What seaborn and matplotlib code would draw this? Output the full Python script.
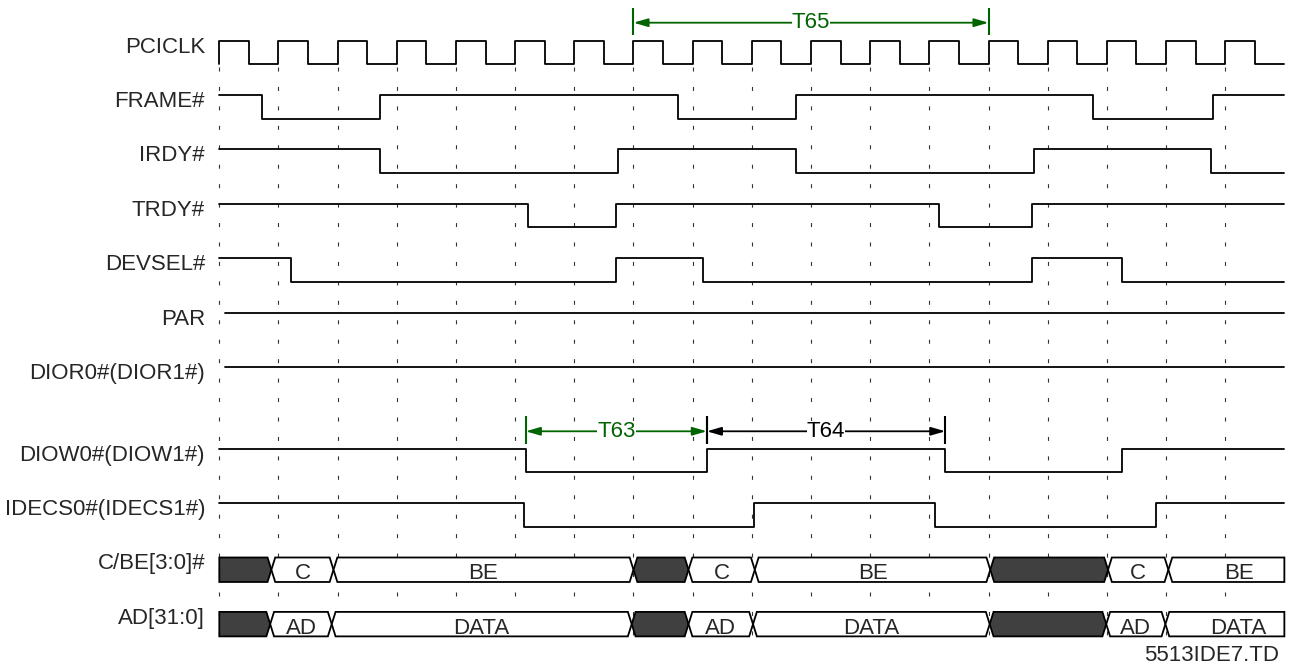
import numpy as np
import pandas as pd
import matplotlib.pyplot as plt
import seaborn as sns
sns.set_style("white")
plt.rcParams['font.family'] = ['Liberation Sans', 'DejaVu Sans']

# time axis in PCICLK periods, rows in signal slots
T_END = 18
N_CLK = 18
AMP = 0.432
BUS_H = 0.45
XING = 0.065
GREEN = "#006400"
FS = 16

names = ["PCICLK", "FRAME#", "IRDY#", "TRDY#", "DEVSEL#", "PAR",
         "DIOR0#(DIOR1#)", "DIOW0#(DIOW1#)", "IDECS0#(IDECS1#)",
         "C/BE[3:0]#", "AD[31:0]"]
rows = [0, 1, 2, 3, 4, 5, 6, 7.5, 8.5, 9.5, 10.5]

# transition times (all these start high)
frame_edges = [0.72, 2.72, 7.75, 9.75, 14.77, 16.8]
irdy_edges = [2.72, 6.74, 9.75, 13.77, 16.76]
trdy_edges = [5.21, 6.71, 12.16, 13.73]
devsel_edges = [1.21, 6.71, 8.18, 13.73, 15.25]
par_edges = []
dior_edges = []
diow_edges = [5.18, 8.24, 12.27, 15.25]
idecs_edges = [5.15, 9.03, 12.1, 15.83]

# bus segments: boundaries and contents (None = undriven)
cbe_edges = [0, 0.88, 1.93, 7.0, 7.93, 9.05, 13.03, 15.02, 16.04, 18]
cbe_labels = [None, "C", "BE", None, "C", "BE", None, "C", "BE"]
ad_edges = [0, 0.86, 1.9, 6.97, 7.93, 9.02, 13.02, 14.99, 15.99, 18]
ad_labels = [None, "AD", "DATA", None, "AD", "DATA", None, "AD", "DATA"]

# timing arrows: name, start, end, row position, colour
t_names = ["T65", "T63", "T64"]
t_start = [7, 5.18, 8.24]
t_stop = [13, 8.24, 12.27]
t_row = [-0.331, 7.18, 7.18]
t_color = [GREEN, GREEN, "black"]


def steps(name, edges, row, start=0.0, first_low=False):
    hi, lo = row, row + AMP
    level = lo if first_low else hi
    ts, ys = [start], [level]
    for e in edges:
        nxt = hi if level == lo else lo
        ts += [e, e]
        ys += [level, nxt]
        level = nxt
    ts.append(T_END)
    ys.append(level)
    return pd.DataFrame({"t": ts, "y": ys, "signal": name})


clk_edges = [k * 0.5 for k in range(2 * N_CLK)]
frames = [
    steps("PCICLK", clk_edges, rows[0], first_low=True),
    steps("FRAME#", frame_edges, rows[1]),
    steps("IRDY#", irdy_edges, rows[2]),
    steps("TRDY#", trdy_edges, rows[3]),
    steps("DEVSEL#", devsel_edges, rows[4]),
    steps("PAR", par_edges, rows[5], start=0.1),
    steps("DIOR", dior_edges, rows[6], start=0.1),
    steps("DIOW", diow_edges, rows[7]),
    steps("IDECS", idecs_edges, rows[8]),
]
df = pd.concat(frames, ignore_index=True)

fig = plt.figure(figsize=(12.95, 6.66), dpi=100)
ax = fig.add_axes([0, 0, 1, 1])

# dotted clock gridlines
ax.vlines(np.arange(N_CLK), 0.483, 11.05, colors="#333333", lw=0.8,
          linestyles=[(0, (3.6, 13.9))], zorder=0)

sns.lineplot(data=df, x="t", y="y", units="signal", estimator=None,
             sort=False, color="black", lw=1.3, legend=False, ax=ax, zorder=2)


def bus(edges, labels, row):
    top, bot, mid = row, row + BUS_H, row + BUS_H / 2
    n = len(labels)
    for i in range(n):
        a, b = edges[i], edges[i + 1]
        if i == 0:
            pts = [(a, bot), (a, top)]
        else:
            pts = [(a, mid), (a + XING, top)]
        if i == n - 1:
            pts += [(b, top), (b, bot)]
        else:
            pts += [(b - XING, top), (b, mid), (b - XING, bot)]
        if i != 0:
            pts.append((a + XING, bot))
        xs, ys = zip(*pts)
        fc = "#404040" if labels[i] is None else "white"
        ax.fill(xs, ys, facecolor=fc, edgecolor="black", lw=1.3, zorder=3)
        if labels[i]:
            # last field's text sits a bit to the right in the original
            cx = (a + b) / 2 + (0.22 if i == n - 1 else 0)
            ax.text(cx, top + 0.40, labels[i], ha="center",
                    va="baseline", fontsize=FS, zorder=4)


bus(cbe_edges, cbe_labels, rows[9])
bus(ad_edges, ad_labels, rows[10])

for nm, r in zip(names, rows):
    ax.text(-0.24, r + 0.22, nm, ha="right", va="baseline", fontsize=FS)

for nm, a, b, r, c in zip(t_names, t_start, t_stop, t_row, t_color):
    ax.annotate("", xy=(b, r), xytext=(a, r),
                arrowprops=dict(arrowstyle="<|-|>,head_length=0.86,head_width=0.25",
                                mutation_scale=10, shrinkA=0, shrinkB=0,
                                color=c, lw=1.3), zorder=5)
    ax.vlines([a, b], r - 0.275, r + 0.235, colors=c, lw=1.5, zorder=5)
    ax.text((a + b) / 2, r + 0.103, nm, ha="center", va="baseline",
            fontsize=FS, color=c, zorder=6,
            bbox=dict(fc="white", ec="none", pad=0))

ax.text(17.91, 11.40, "5513IDE7.TD", ha="right", va="baseline", fontsize=FS)

ax.set_xlim(-219.3 / 59.17, (1295 - 219.3) / 59.17)
ax.set_ylim((666 - 40.7) / 54.4, -40.7 / 54.4)
ax.axis("off")

fig.savefig("out.png", dpi=100)
